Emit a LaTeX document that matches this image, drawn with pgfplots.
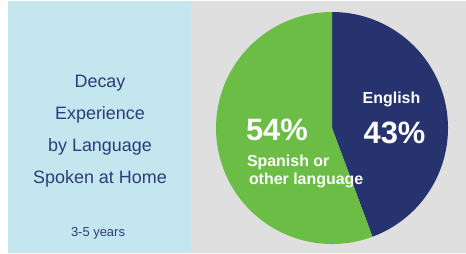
\documentclass[border=0pt]{standalone}
\usepackage{pgfplots}
\pgfplotsset{compat=1.18}
\usepackage{pgfplotstable}
\usepackage{fontspec}
\setmainfont{Liberation Sans}
\definecolor{panelblue}{HTML}{C3E6EF}
\definecolor{panelgrey}{HTML}{DFDFDF}
\definecolor{pienavy}{HTML}{26336E}
\definecolor{piegreen}{HTML}{6CBD45}
\definecolor{titlenavy}{HTML}{2E3B7A}
\pgfplotstableread{
label value
English 43
Other 54
}\piedata
\begin{document}
\begin{tikzpicture}[x=1bp,y=1bp]
\useasboundingbox (0,0) rectangle (466,253);
\fill[white] (0,0) rectangle (466,253);
\fill[panelblue] (8,0) rectangle (191,252);
\fill[panelgrey] (191,0) rectangle (466,252);
\pgfplotstablegetelem{0}{value}\of\piedata \let\vA\pgfplotsretval
\pgfplotstablegetelem{1}{value}\of\piedata \let\vB\pgfplotsretval
\pgfmathsetmacro{\tot}{\vA+\vB}
\pgfmathsetmacro{\aEnd}{90-(\vA/\tot)*360}
\pgfmathsetmacro{\bEnd}{\aEnd-(\vB/\tot)*360}
\pgfmathsetmacro{\cx}{cos(\aEnd)}
\pgfmathsetmacro{\cy}{sin(\aEnd)}
\begin{axis}[at={(332bp,125bp)}, anchor=center, scale only axis,
  width=232bp, height=232bp, hide axis,
  xmin=-1, xmax=1, ymin=-1, ymax=1, clip=false]
\fill[pienavy] (axis cs:0,0) -- (axis cs:0,1) arc[start angle=90, end angle=\aEnd, radius=1] -- cycle;
\fill[piegreen] (axis cs:0,0) -- (axis cs:\cx,\cy) arc[start angle=\aEnd, end angle=\bEnd, radius=1] -- cycle;
\end{axis}
\begin{scope}[every node/.style={inner sep=0pt, outer sep=0pt}]
\node[text=titlenavy, font=\fontsize{18}{20}\selectfont, anchor=base] at (100,166) {Decay};
\node[text=titlenavy, font=\fontsize{18}{20}\selectfont, anchor=base] at (100,134) {Experience};
\node[text=titlenavy, font=\fontsize{18}{20}\selectfont, anchor=base] at (100,102) {by Language};
\node[text=titlenavy, font=\fontsize{18}{20}\selectfont, anchor=base] at (100,70) {Spoken at Home};
\node[text=titlenavy, font=\fontsize{13}{15}\selectfont, anchor=base] at (98,17) {3-5 years};
\node[text=white, font=\fontsize{16}{18}\selectfont\bfseries, anchor=base] at (391.5,150) {English};
\node[text=white, font=\fontsize{31}{33}\selectfont\bfseries, anchor=base] at (394.5,110) {43\%};
\node[text=white, font=\fontsize{31}{33}\selectfont\bfseries, anchor=base west] at (246,113) {54\%};
\node[text=white, font=\fontsize{16}{18}\selectfont\bfseries, anchor=base west] at (247,87) {Spanish or};
\node[text=white, font=\fontsize{16}{18}\selectfont\bfseries, anchor=base west] at (249,69) {other language};
\end{scope}
\end{tikzpicture}
\end{document}
